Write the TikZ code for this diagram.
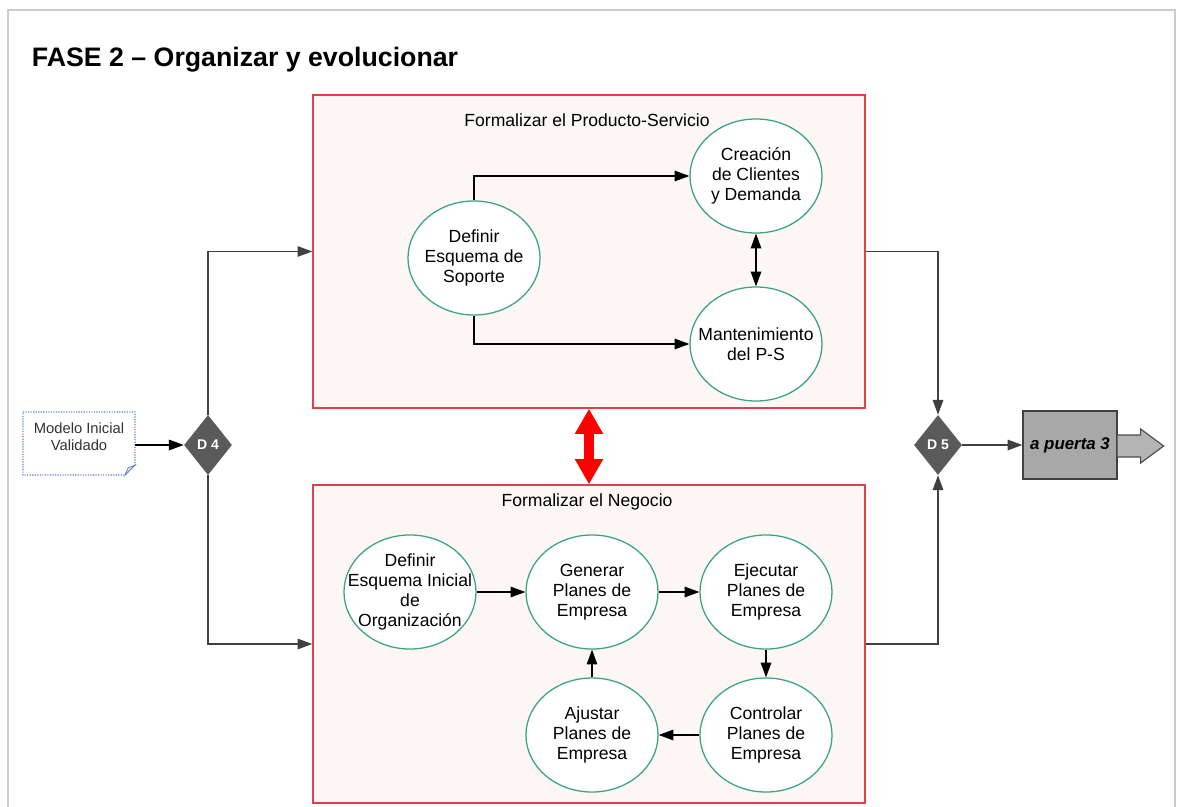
\documentclass[tikz,border=0pt]{standalone}
\usepackage{fontspec}
\setmainfont{Liberation Sans}
\usetikzlibrary{shapes.geometric, arrows.meta, positioning}

\definecolor{marcorojo}{HTML}{E0404A}
\definecolor{fondofase}{HTML}{FCF7F5}
\definecolor{bordeverde}{HTML}{3AA383}
\definecolor{grisdiamante}{HTML}{5A5A5A}
\definecolor{grissalida}{HTML}{A8A8A8}
\definecolor{grisflecha}{HTML}{B4B4B4}
\definecolor{azulnota}{HTML}{5B7FC4}
\definecolor{grislinea}{HTML}{404040}

\begin{document}
\begin{tikzpicture}[x=0.025cm, y=-0.025cm,
    fase/.style=
    {draw=marcorojo, fill=fondofase, line width=0.9pt, minimum width=13.8cm}, etapa/.style=
    {draw=bordeverde, fill=white, line width=0.9pt, ellipse, minimum width=3.3cm, minimum height=2.85cm,
     inner sep=-20pt, align=center, font=\fontsize{12.5}{14.2}\selectfont},
    decision/.style={diamond, fill=grisdiamante, minimum width=1.2cm, minimum height=1.5cm,
     inner sep=0pt, text=white, font=\fontsize{10}{12}\selectfont\bfseries},
    flujo/.style={-{Triangle[length=10.5pt,width=7.5pt]}, line width=0.9pt},
    conector/.style={flujo, draw=grislinea},
    rotulo/.style={font=\fontsize{12.5}{15}\selectfont}]
    \useasboundingbox (0,0) rectangle (1183,807);
    \clip (0,0) rectangle (1183,807);
    \draw[black!20, line width=1.5pt] (8,10) rectangle (1175,840);
    \node (titulo) [anchor=west, font=\fontsize{19}{22}\selectfont\bfseries] at (27,60) {FASE 2 – Organizar y evolucionar};
    % las dos fases
    \node (ps) [fase, minimum height=7.825cm] at (589,251.5) {};
    \node (neg) [fase, minimum height=7.95cm] at (589,644) {};
    \node (pstit) [rotulo] at (587,120) {Formalizar el Producto-Servicio};
    \node (negtit) [rotulo] at (587,502) {Formalizar el Negocio};
    \node (sop) [etapa] at (474,258) {Definir\\Esquema de\\Soporte};
    \node (cre) [etapa] at (756,176) {Creación\\de Clientes\\y Demanda};
    \node (man) [etapa] at (756,344) {Mantenimiento\\del P-S};
    \node (org) [etapa] at (410,592) {Definir\\Esquema Inicial\\de\\Organización};
    \node (gen) [etapa] at (592,592) {Generar\\Planes de\\Empresa};
    \node (eje) [etapa] at (766,592) {Ejecutar\\Planes de\\Empresa};
    \node (con) [etapa] at (766,735) {Controlar\\Planes de\\Empresa};
    \node (aju) [etapa] at (592,735) {Ajustar\\Planes de\\Empresa};
    \draw[flujo] (sop.north) |- (cre.west);
    \draw[flujo] (sop.south) |- (man.west);
    \draw[flujo, {Triangle[length=10.5pt,width=7.5pt]}-{Triangle[length=10.5pt,width=7.5pt]}] (cre.south) -- (man.north);
    \draw[flujo] (org) -- (gen);
    \draw[flujo] (gen) -- (eje);
    \draw[flujo] (eje) -- (con);
    \draw[flujo] (con) -- (aju);
    \draw[flujo] (aju) -- (gen);
    \draw[red, line width=7pt, {Triangle[length=18pt,width=19pt]}-{Triangle[length=18pt,width=19pt]}] (ps.south) -- (neg.north);
    % entrada
    \coordinate (notac) at (79,437);
    \draw[azulnota, densely dotted, line width=0.8pt, fill=white]
        ([shift={(-56,-25)}]notac) -- ([shift={(56,-25)}]notac)
        -- ([shift={(56,28)}]notac) -- ([shift={(46,38)}]notac)
        -- ([shift={(-56,38)}]notac) -- cycle;
    \draw[azulnota, fill=azulnota!25, line width=0.5pt] ([shift={(56,28)}]notac)
        -- ([shift={(49,31)}]notac) -- ([shift={(46,38)}]notac) -- cycle;
    \node (nota) [font=\fontsize{10.5}{12}\selectfont, align=center, text=black!80] at (notac) {Modelo Inicial\\Validado};
    \coordinate (notasal) at ([shift={(56,8)}]notac);
    \node (d4) [decision] at (208,445) {D 4};
    \node (d5) [decision] at (938,445) {D 5};
    \draw[flujo] (notasal) -- (d4.west);
    \draw[conector] (d4.north) |- (ps.west);
    \draw[conector] (d4.south) |- (neg.west);
    \draw[conector] (ps.east) -| (d5.north);
    \draw[conector] (neg.east) -| (d5.south);
    % salida
    \node (puerta) [fill=grissalida, draw=black!75, line width=0.9pt, minimum width=2.35cm, minimum height=1.7cm,
        font=\fontsize{12}{14}\selectfont\bfseries\itshape] at (1070,445) {a puerta 3};
    \draw[conector] (d5.east) -- (puerta.west);
    \draw[fill=grisflecha, draw=black!70, line width=0.8pt] (puerta.east) ++(0,-10) -- ++(23,0) -- ++(0,-6)
        -- ++(23,17) -- ++(-23,17) -- ++(0,-6) -- ++(-23,0);
\end{tikzpicture}
\end{document}
